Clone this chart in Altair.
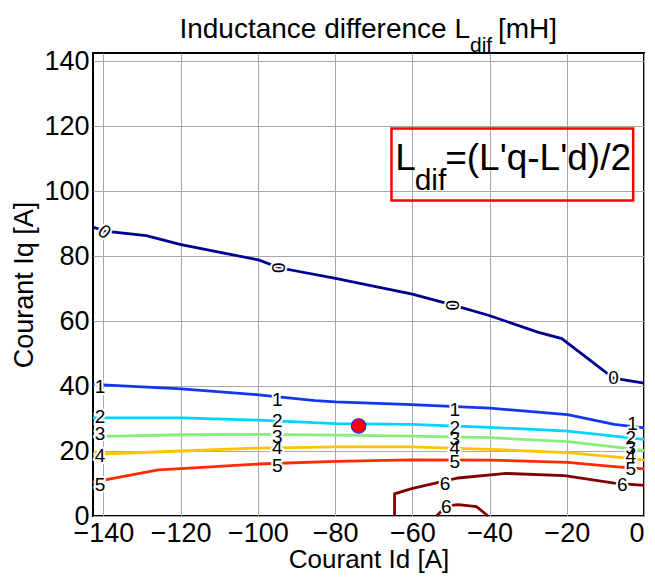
import altair as alt
import pandas as pd

FONT = "Liberation Sans, Arial, sans-serif"

# ---- contour lines (Id [A], Iq [A]) ----
c0_x = [-142.7, -139.6, -128.9, -119.9, -99.8, -94.5, -79.9, -60.0, -49.4, -40.1, -27.5, -21.3, -14.6, -7.9, 0.0]
c0_y = [88.9, 87.7, 86.3, 83.5, 78.8, 76.4, 73.1, 68.3, 64.9, 61.7, 56.6, 54.6, 48.5, 42.4, 40.9]
c1_x = [-142.7, -119.8, -99.8, -85.1, -79.9, -60.2, -39.9, -19.8, -7.7, 0.0]
c1_y = [40.5, 39.1, 37.3, 35.5, 35.1, 34.3, 33.2, 31.2, 28.2, 27.1]
c2_x = [-142.7, -119.8, -99.8, -79.9, -60.2, -39.9, -19.8, -7.7, 0.0]
c2_y = [30.2, 30.2, 29.5, 28.4, 28.2, 27.3, 26.1, 24.6, 23.6]
c3_x = [-142.7, -119.8, -99.8, -79.9, -60.2, -39.9, -19.8, -7.7, 0.0]
c3_y = [24.4, 25.0, 25.1, 24.9, 24.6, 24.1, 22.9, 21.3, 20.2]
c4_x = [-142.7, -119.8, -99.8, -79.9, -60.2, -39.9, -19.8, -7.7, 0.0]
c4_y = [19.0, 20.0, 20.9, 21.3, 21.3, 20.5, 19.5, 18.2, 17.2]
c5_x = [-142.7, -125.8, -119.8, -99.8, -79.9, -60.2, -39.9, -19.8, -7.7, 0.0]
c5_y = [10.4, 14.2, 14.6, 16.0, 16.8, 17.3, 17.2, 16.5, 15.2, 14.5]
c6a_x = [-64.6, -64.6, -60.2, -48.1, -35.7, -20.6, -7.7, 0.0]
c6a_y = [0.0, 6.8, 8.4, 11.7, 13.1, 12.4, 10.1, 9.4]
c6b_x = [-53.7, -51.2, -48.1, -43.4, -40.4]
c6b_y = [0.0, 3.1, 3.5, 2.9, 0.0]

levels = ["0", "1", "2", "3", "4", "5", "6"]
level_colors = ["#00008f", "#1236f2", "#00d4ff", "#86ee7a", "#ffc400", "#ff2a00", "#800000"]

# ---- contour labels ----
lab_x = [-139.6, -94.5, -49.4, -7.9,
         -140.9, -95.0, -49.0, -3.0,
         -140.9, -95.0, -49.0, -3.4,
         -140.9, -95.0, -49.0, -3.4,
         -140.9, -95.0, -49.0, -3.4,
         -140.9, -95.0, -49.0, -3.4,
         -51.5, -5.6, -51.2]
lab_y = [87.7, 76.4, 64.9, 42.4,
         39.8, 35.6, 32.7, 28.2,
         30.4, 29.2, 27.1, 24.1,
         25.2, 24.3, 23.6, 21.0,
         18.5, 21.0, 20.9, 18.5,
         9.4, 15.5, 16.5, 14.5,
         10.0, 9.4, 2.7]
lab_text = ["0"] * 4 + ["1"] * 4 + ["2"] * 4 + ["3"] * 4 + ["4"] * 4 + ["5"] * 4 + ["6"] * 3
lab_angle = [12, 15, 15, 20] + [0] * 23

# ---- operating point ----
pt_x = [-73.9]
pt_y = [27.7]

# ---- formula box ----
box_x = [-65.4]
box_x2 = [-2.8]
box_y = [97.1]
box_y2 = [119.3]
formula_parts = ["L", "dif", "=(L'q-L'd)/2"]
formula_x = [-64.4, -59.4, -51.5]
formula_y = [106.4, 100.4, 106.4]
formula_size = [37, 30, 37]

title_parts = ["Inductance difference L", "dif", "[mH]"]

x_ticks = [-140, -120, -100, -80, -60, -40, -20, 0]
y_ticks = [0, 20, 40, 60, 80, 100, 120, 140]

# ---- tables ----
rows = []
for lvl, seg, xs, ys in [("0", "0", c0_x, c0_y), ("1", "1", c1_x, c1_y), ("2", "2", c2_x, c2_y),
                         ("3", "3", c3_x, c3_y), ("4", "4", c4_x, c4_y), ("5", "5", c5_x, c5_y),
                         ("6", "6a", c6a_x, c6a_y), ("6", "6b", c6b_x, c6b_y)]:
    for i, (xv, yv) in enumerate(zip(xs, ys)):
        rows.append({"level": lvl, "seg": seg, "i": i, "Id": xv, "Iq": yv})
lines_df = pd.DataFrame(rows)
labels_df = pd.DataFrame({"Id": lab_x, "Iq": lab_y, "t": lab_text, "a": lab_angle})
pt_df = pd.DataFrame({"Id": pt_x, "Iq": pt_y})
box_df = pd.DataFrame({"x": box_x, "x2": box_x2, "y": box_y, "y2": box_y2})
form_df = pd.DataFrame({"Id": formula_x, "Iq": formula_y, "t": formula_parts, "s": formula_size})

xs = alt.Scale(domain=[-142.7, 0], nice=False, zero=False)
ys = alt.Scale(domain=[0, 142.5], nice=False, zero=False)

x_axis = alt.Axis(values=x_ticks, title="Courant Id [A]", labelFlush=False, labelOverlap=False,
                  labelAlign={"condition": {"test": "datum.value == 0", "value": "right"}, "value": "center"},
                  ticks=False, domain=False, labelPadding=4, titlePadding=0, titleFontSize=26)
y_axis = alt.Axis(values=y_ticks, title="Courant Iq [A]", labelFlush=False, labelOverlap=False,
                  ticks=False, domain=False, labelPadding=4, titlePadding=5)

lines = alt.Chart(lines_df).mark_line(strokeWidth=2.8).encode(
    x=alt.X("Id:Q", scale=xs, axis=x_axis),
    y=alt.Y("Iq:Q", scale=ys, axis=y_axis),
    color=alt.Color("level:N", scale=alt.Scale(domain=levels, range=level_colors), legend=None),
    detail="seg:N",
    order="i:Q",
)

halo = alt.Chart(labels_df).mark_text(font=FONT, fontSize=19, stroke="white", strokeWidth=4,
                                      fill="white", baseline="middle", align="center").encode(
    x=alt.X("Id:Q", scale=xs), y=alt.Y("Iq:Q", scale=ys), text="t:N", angle=alt.Angle("a:Q"))
labels = alt.Chart(labels_df).mark_text(font=FONT, fontSize=19, color="black",
                                        baseline="middle", align="center").encode(
    x=alt.X("Id:Q", scale=xs), y=alt.Y("Iq:Q", scale=ys), text="t:N", angle=alt.Angle("a:Q"))

point = alt.Chart(pt_df).mark_point(filled=False, shape="circle", size=210, fill="#ff0000",
                                    fillOpacity=1, stroke="#2020ff", strokeWidth=1.2, opacity=1).encode(
    x=alt.X("Id:Q", scale=xs), y=alt.Y("Iq:Q", scale=ys))

box = alt.Chart(box_df).mark_rect(fill=None, fillOpacity=0, stroke="#ff0000", strokeWidth=2.5).encode(
    x=alt.X("x:Q", scale=xs), x2="x2:Q", y=alt.Y("y:Q", scale=ys), y2="y2:Q")

formula = alt.Chart(form_df).mark_text(font=FONT, color="black", align="left", baseline="alphabetic").encode(
    x=alt.X("Id:Q", scale=xs), y=alt.Y("Iq:Q", scale=ys), text="t:N",
    size=alt.Size("s:Q", scale=None, legend=None))

tdf = pd.DataFrame({"t": title_parts})
title_main = alt.Chart(tdf).transform_filter(alt.datum.t == title_parts[0]).mark_text(
    font=FONT, fontSize=28, color="black", align="right", baseline="alphabetic").encode(
    x=alt.value(377), y=alt.value(-15), text="t:N")
title_sub = alt.Chart(tdf).transform_filter(alt.datum.t == title_parts[1]).mark_text(
    font=FONT, fontSize=21, color="black", align="left", baseline="alphabetic").encode(
    x=alt.value(377), y=alt.value(-1), text="t:N")
title_end = alt.Chart(tdf).transform_filter(alt.datum.t == title_parts[2]).mark_text(
    font=FONT, fontSize=28, color="black", align="left", baseline="alphabetic").encode(
    x=alt.value(405), y=alt.value(-15), text="t:N")

chart = alt.layer(lines, halo, labels, point, box, formula, title_main, title_sub, title_end).properties(
    width=551, height=463,
    autosize=alt.AutoSizeParams(type="none"),
    padding={"left": 85, "top": 45, "right": 3, "bottom": 58},
).configure_view(
    stroke="black", strokeWidth=2
).configure_axis(
    labelFont=FONT, titleFont=FONT, labelFontSize=27, titleFontSize=27,
    labelColor="black", titleColor="black", titleFontWeight="normal",
    gridColor="#a8a8a8", gridWidth=1, gridOpacity=1,
)

chart.save("out.html", embed_options={"renderer": "svg", "actions": False})
